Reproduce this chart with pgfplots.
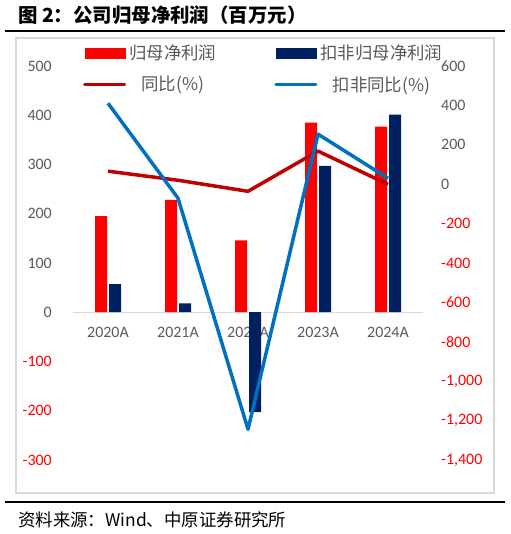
\documentclass[border=0pt]{standalone}
\usepackage{pgfplots}
\pgfplotsset{compat=1.18}
\usepackage{fontspec}
\setmainfont{Carlito}
\newfontfamily\cjk{Noto Sans CJK SC}

\definecolor{tgray}{HTML}{595959}
\definecolor{navy}{HTML}{002060}
\definecolor{dred}{HTML}{C00000}
\definecolor{lblue}{HTML}{0070C0}
\definecolor{framegray}{HTML}{D9D9D9}

\pgfplotsset{
  base/.style={
    at={(73bp,74bp)}, anchor=south west,
    scale only axis, width=350bp, height=394bp,
    xmin=-0.5, xmax=4.5,
    major tick length=0pt,
    tick label style={font=\fontsize{16}{19}\selectfont, text=tgray},
    y axis line style={draw=none},
  },
}

\begin{document}
\begin{tikzpicture}[x=1bp,y=1bp]
\path[use as bounding box] (0,0) rectangle (511,534);
\draw[framegray, line width=1.2bp] (16,41) rectangle (494,496);
\draw[black, line width=2.5bp] (5,503) -- (505,503);
\draw[black, line width=2.5bp] (5,32) -- (505,32);
\node[anchor=west, inner sep=0pt, font=\cjk\bfseries\fontsize{19.5}{22}\selectfont] at (18,519) {图 2：公司归母净利润（百万元）};
\node[anchor=west, inner sep=0pt, font=\cjk\fontsize{17.5}{20}\selectfont] at (18,14) {资料来源：Wind、中原证券研究所};

% left axis: profit bars
\begin{axis}[base,
    ymin=-300, ymax=500,
    ybar=2bp, bar width=12bp,
    axis y line*=left,
    axis x line*=middle,
    x axis line style={framegray, line width=1.2bp, -},
    xtick={0,1,2,3,4},
    xticklabels={2020A,2021A,2022A,2023A,2024A},
    xticklabel style={anchor=north, inner sep=0pt, yshift=-15bp},
    ytick={-300,-200,-100,0,100,200,300,400,500},
    yticklabels={{\color{red}-300},{\color{red}-200},{\color{red}-100},0,100,200,300,400,500},
    yticklabel style={anchor=east, inner sep=0pt, xshift=-21bp},
]
\addplot[fill=red, draw=none] coordinates {(0,195) (1,228) (2,146) (3,385) (4,377)};
\addplot[fill=navy, draw=none] coordinates {(0,57) (1,18) (2,-203) (3,297) (4,401)};
\end{axis}

% right axis: growth rates
\begin{axis}[base,
    ymin=-1400, ymax=600,
    axis y line*=right,
    axis x line=none,
    ytick={-1400,-1200,-1000,-800,-600,-400,-200,0,200,400,600},
    yticklabels={{\color{red}-1,400},{\color{red}-1,200},{\color{red}-1,000},{\color{red}-800},{\color{red}-600},{\color{red}-400},{\color{red}-200},0,200,400,600},
    yticklabel style={anchor=west, inner sep=0pt, xshift=18bp},
    legend columns=2,
    legend image code/.code={\draw[#1, line width=3bp, line cap=round] (0bp,0bp) -- (40bp,0bp);},
    legend style={draw=none, fill=none, inner sep=0pt,
      at={(0,1)}, anchor=north west, xshift=10bp, yshift=23bp,
      nodes={inner sep=2bp, text=tgray, font=\cjk\fontsize{17.5}{20}\selectfont},
      row sep=11bp,
      /tikz/every odd column/.append style={column sep=1bp},
      /tikz/every even column/.append style={column sep=56bp}},
]
\addlegendimage{legend image code/.code={\fill[red] (0bp,-5bp) rectangle (40bp,5bp);}}
\addlegendentry{归母净利润}
\addlegendimage{legend image code/.code={\fill[navy] (0bp,-5bp) rectangle (40bp,5bp);}}
\addlegendentry{扣非归母净利润}
\addplot[dred, line width=3.5bp, line join=round] coordinates {(0,66) (1,20) (2,-36) (3,168) (4,-1)};
\addlegendentry{同比(\%)}
\addplot[lblue, line width=3.5bp, line join=round] coordinates {(0,411) (1,-71) (2,-1244) (3,254) (4,30)};
\addlegendentry{扣非同比(\%)}
\end{axis}
\end{tikzpicture}
\end{document}
